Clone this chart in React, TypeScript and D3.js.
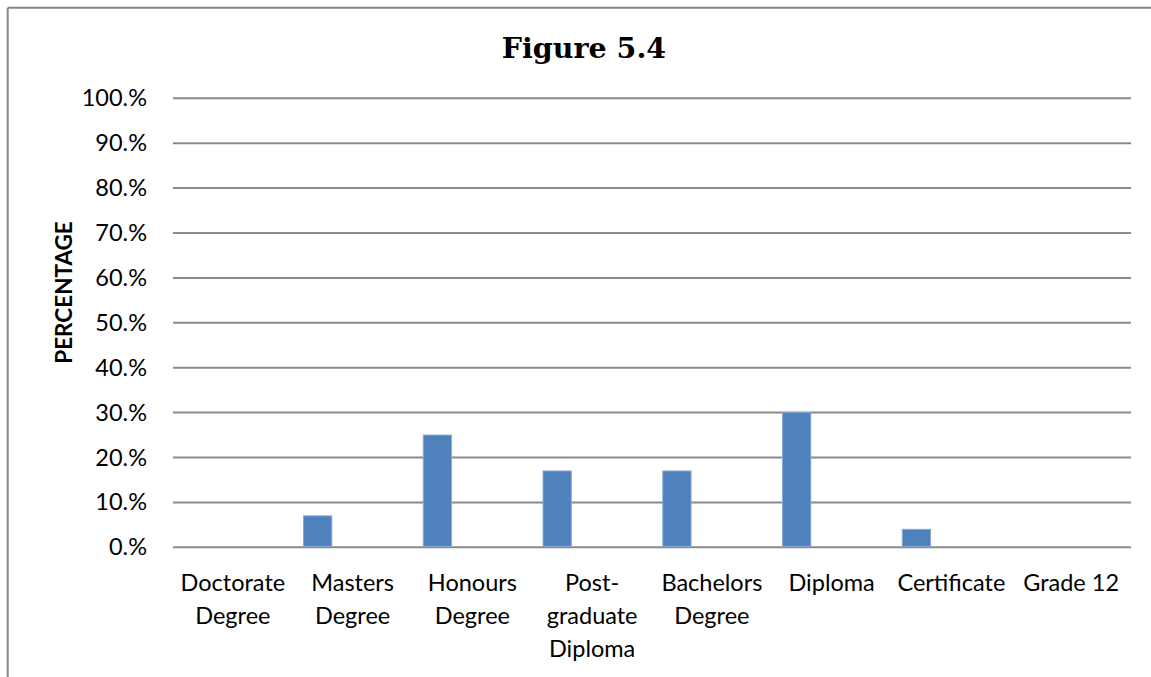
import React from "react";
import * as d3 from "d3";

const categories: string[][] = [
  ["Doctorate", "Degree"],
  ["Masters", "Degree"],
  ["Honours", "Degree"],
  ["Post-", "graduate", "Diploma"],
  ["Bachelors", "Degree"],
  ["Diploma"],
  ["Certificate"],
  ["Grade 12"],
];
const values: number[] = [0, 7, 25, 17, 17, 30, 4, 0];
const yTicks: number[] = [0, 10, 20, 30, 40, 50, 60, 70, 80, 90, 100];
const tickLabel = (v: number) => `${v}.%`;

const W = 1151;
const H = 677;
const plot = { left: 173, right: 1131, top: 98.3, bottom: 547.3 };

export default function App() {
  const keys = categories.map((c) => c.join(" "));
  const x = d3.scaleBand<string>().domain(keys).range([plot.left, plot.right]).padding(0);
  const y = d3.scaleLinear().domain([0, 100]).range([plot.bottom, plot.top]);
  const bw = x.bandwidth();
  const barOffset = bw * 0.09;
  const barWidth = bw * 0.236;
  const labelFont = "Lato, 'Open Sans', sans-serif";

  return (
    <svg
      width={W}
      height={H}
      style={{ position: "absolute", left: 0, top: 0, background: "#fff" }}
    >
      {/* chart frame edges */}
      <line x1={7.7} y1={7.7} x2={W} y2={7.7} stroke="#878787" strokeWidth={2} />
      <line x1={7.7} y1={7.7} x2={7.7} y2={H} stroke="#878787" strokeWidth={2} />

      <text
        x={584}
        y={58.3}
        textAnchor="middle"
        fontFamily="'DejaVu Serif', serif"
        fontWeight="bold"
        fontSize={28.5}
        fill="#000"
      >
        Figure 5.4
      </text>

      {/* horizontal gridlines and tick labels */}
      {yTicks.map((t) => (
        <g key={t}>
          <line
            x1={plot.left}
            x2={plot.right}
            y1={y(t)}
            y2={y(t)}
            stroke="#8a8a8a"
            strokeWidth={2}
          />
          <text
            x={147}
            y={y(t) + 8}
            textAnchor="end"
            fontFamily={labelFont}
            fontSize={23.5}
            fill="#000"
          >
            {tickLabel(t)}
          </text>
        </g>
      ))}

      {/* bars */}
      {values.map((v, i) => {
        const x0 = (x(keys[i]) as number) + barOffset;
        const h = y(0) - y(v);
        if (h <= 0) return null;
        return (
          <rect
            key={keys[i]}
            x={x0}
            y={y(v)}
            width={barWidth}
            height={h - 1}
            fill="#4F81BD"
            stroke="#86a8d4"
            strokeWidth={1}
          />
        );
      })}

      {/* category labels */}
      {categories.map((lines, i) => {
        const cx = (x(keys[i]) as number) + bw / 2;
        return (
          <text
            key={keys[i]}
            textAnchor="middle"
            fontFamily={labelFont}
            fontSize={23.5}
            fill="#000"
          >
            {lines.map((ln, j) => (
              <tspan key={j} x={cx} y={591 + j * 33}>
                {ln}
              </tspan>
            ))}
          </text>
        );
      })}

      <text
        transform={`translate(72.3, 292.5) rotate(-90)`}
        textAnchor="middle"
        fontFamily={labelFont}
        fontWeight="bold"
        fontSize={22.5}
        fill="#000"
      >
        PERCENTAGE
      </text>
    </svg>
  );
}
